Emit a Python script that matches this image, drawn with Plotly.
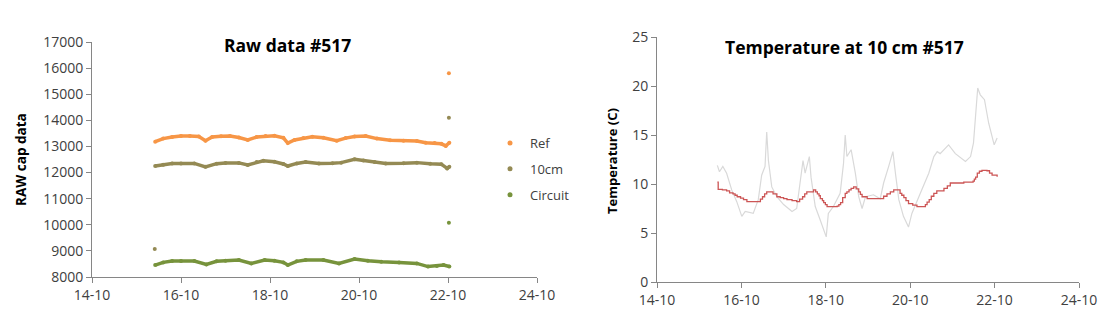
import plotly.graph_objects as go

# ---------------- data ----------------
tick_days = [14, 16, 18, 20, 22, 24]
tick_labels = ["14-10", "16-10", "18-10", "20-10", "22-10", "24-10"]

ref_t = [15.42, 15.6, 15.8, 16.0, 16.2, 16.4, 16.55, 16.7, 16.9, 17.1, 17.3, 17.5, 17.7, 17.9, 18.1, 18.3, 18.4,
         18.55, 18.75, 18.95, 19.2, 19.5, 19.7, 19.9, 20.15, 20.4, 20.7, 21.0, 21.3, 21.5, 21.7, 21.85, 21.95, 22.03]
ref_v = [13180, 13300, 13360, 13400, 13400, 13380, 13220, 13360, 13390, 13400, 13340, 13250, 13360, 13400, 13410,
         13330, 13130, 13250, 13320, 13370, 13330, 13220, 13320, 13380, 13400, 13300, 13240, 13220, 13210, 13140,
         13130, 13100, 13020, 13140]

cm10_t = [15.42, 15.6, 15.8, 16.0, 16.3, 16.55, 16.8, 17.0, 17.3, 17.5, 17.7, 17.85, 18.1, 18.3, 18.4, 18.6, 18.8,
          19.1, 19.4, 19.6, 19.9, 20.1, 20.35, 20.6, 21.0, 21.3, 21.6, 21.85, 21.98, 22.03]
cm10_v = [12250, 12300, 12350, 12350, 12350, 12220, 12340, 12370, 12370, 12290, 12400, 12450, 12410, 12330, 12250,
          12350, 12400, 12350, 12360, 12380, 12510, 12460, 12400, 12350, 12360, 12380, 12340, 12320, 12160, 12220]

circ_t = [15.42, 15.6, 15.8, 16.0, 16.3, 16.57, 16.8, 17.0, 17.3, 17.58, 17.88, 18.1, 18.3, 18.4, 18.6, 18.8, 19.2,
          19.55, 19.9, 20.2, 20.5, 20.9, 21.3, 21.55, 21.75, 21.9, 22.03]
circ_v = [8456, 8560, 8610, 8610, 8610, 8480, 8600, 8620, 8650, 8520, 8650, 8620, 8560, 8456, 8600, 8650, 8650,
          8520, 8690, 8620, 8580, 8560, 8520, 8400, 8420, 8456, 8400]

# isolated outlier readings
ref_out_t = [22.02]
ref_out_v = [15800]
cm10_out_t = [15.41, 22.02]
cm10_out_v = [9070, 14100]
circ_out_t = [22.02]
circ_out_v = [10080]

air_t = [15.43, 15.48, 15.56, 15.65, 15.77, 15.89, 16.01, 16.09, 16.28, 16.4, 16.48, 16.56, 16.6, 16.64, 16.72,
         16.84, 17.0, 17.2, 17.31, 17.39, 17.46, 17.51, 17.61, 17.65, 17.75, 17.87, 18.01, 18.06, 18.18, 18.34,
         18.42, 18.46, 18.5, 18.6, 18.7, 18.78, 18.86, 18.94, 19.13, 19.29, 19.37, 19.49, 19.59, 19.65, 19.73,
         19.84, 19.96, 20.04, 20.12, 20.24, 20.44, 20.56, 20.64, 20.71, 20.91, 21.07, 21.31, 21.43, 21.5, 21.54,
         21.6, 21.66, 21.76, 21.86, 21.99, 22.06]
air_v = [11.9, 11.25, 11.8, 11.1, 9.4, 8.2, 6.7, 7.2, 7.0, 8.4, 10.9, 11.8, 15.3, 12.4, 9.7,
         8.7, 7.9, 7.2, 7.5, 10.1, 12.4, 11.1, 12.8, 10.7, 7.7, 6.3, 4.6, 7.0, 7.7, 9.05,
         12.1, 15.0, 12.8, 13.5, 11.1, 8.7, 7.5, 8.7, 8.9, 8.5, 10.1, 11.8, 13.3, 11.1, 8.4,
         6.7, 5.6, 7.0, 7.9, 9.05, 11.1, 12.8, 13.3, 13.1, 14.0, 13.1, 12.3, 12.8, 14.2, 16.9,
         19.8, 19.1, 18.6, 16.2, 14.0, 14.7]

soil_t = [15.43, 15.45, 15.55, 15.65, 15.72, 15.8, 15.85, 15.9, 15.98, 16.05, 16.13, 16.4, 16.45, 16.5, 16.55,
          16.6, 16.75, 16.84, 16.92, 17.0, 17.08, 17.2, 17.31, 17.38, 17.45, 17.5, 17.55, 17.71, 17.76, 17.8,
          17.84, 17.87, 17.92, 17.95, 17.99, 18.03, 18.27, 18.31, 18.35, 18.4, 18.46, 18.5, 18.55, 18.6, 18.66,
          18.72, 18.78, 18.82, 18.86, 18.98, 19.29, 19.37, 19.45, 19.53, 19.61, 19.76, 19.8, 19.85, 19.9, 19.96,
          20.06, 20.16, 20.36, 20.4, 20.45, 20.5, 20.56, 20.63, 20.7, 20.8, 20.88, 20.95, 21.27, 21.49, 21.52,
          21.55, 21.59, 21.64, 21.7, 21.82, 21.88, 21.94, 22.06]
soil_v = [10.2, 9.45, 9.4, 9.3, 9.1, 9.0, 8.85, 8.7, 8.55, 8.4, 8.2, 8.2, 8.45, 8.7, 9.0,
          9.2, 9.0, 8.7, 8.6, 8.5, 8.4, 8.3, 8.2, 8.45, 8.7, 9.0, 9.2, 9.4, 9.2, 9.0,
          8.8, 8.5, 8.3, 8.1, 7.9, 7.7, 7.75, 7.9, 8.1, 8.6, 9.05, 9.2, 9.4, 9.55, 9.7,
          9.5, 9.2, 8.95, 8.7, 8.5, 8.5, 8.75, 9.0, 9.2, 9.4, 9.05, 8.85, 8.6, 8.3, 8.0,
          7.85, 7.7, 7.9, 8.15, 8.4, 8.75, 9.05, 9.3, 9.3, 9.55, 9.8, 10.1, 10.2, 10.3, 10.5,
          10.7, 11.1, 11.3, 11.4, 11.35, 11.1, 10.9, 10.75]

# ---------------- figure ----------------
FONT = "Open Sans"
C_REF = "#F79646"
C_10 = "#948A54"
C_CIRC = "#77933C"
AXC = "#868686"
TXT = "#404040"

fig = go.Figure()

for t, v, c, name, g in [(ref_t, ref_v, C_REF, "Ref", "a"), (cm10_t, cm10_v, C_10, "10cm", "b"),
                         (circ_t, circ_v, C_CIRC, "Circuit", "c")]:
    fig.add_trace(go.Scatter(x=t, y=v, mode="lines+markers", line=dict(color=c, width=3.5),
                             marker=dict(color=c, size=4), showlegend=False, xaxis="x", yaxis="y"))
    fig.add_trace(go.Scatter(x=[None], y=[None], mode="markers", marker=dict(color=c, size=5),
                             name=name, legendgroup=g, showlegend=True, xaxis="x", yaxis="y"))

for t, v, c in [(ref_out_t, ref_out_v, C_REF), (cm10_out_t, cm10_out_v, C_10), (circ_out_t, circ_out_v, C_CIRC)]:
    fig.add_trace(go.Scatter(x=t, y=v, mode="markers", marker=dict(color=c, size=4), showlegend=False,
                             xaxis="x", yaxis="y"))

fig.add_trace(go.Scatter(x=air_t, y=air_v, mode="lines", line=dict(color="#D9D9D9", width=1.2),
                         showlegend=False, xaxis="x2", yaxis="y2"))
fig.add_trace(go.Scatter(x=soil_t, y=soil_v, mode="lines", line=dict(color="#CC5555", width=1.3, shape="hv"),
                         showlegend=False, xaxis="x2", yaxis="y2"))

W, H = 1120, 335

def px_x(p):
    return p / W

def px_y(p):
    return 1 - p / H

common_x = dict(range=[14, 24], tickvals=tick_days, ticktext=tick_labels, showgrid=False, zeroline=False,
                showline=True, linecolor=AXC, linewidth=1, ticks="outside", ticklen=5, tickcolor=AXC,
                automargin=False, tickfont=dict(family=FONT, size=14, color=TXT))
common_y = dict(showgrid=False, zeroline=False, showline=True, linecolor=AXC, linewidth=1, ticks="outside",
                ticklen=5, tickcolor=AXC, automargin=False, tickformat="d",
                tickfont=dict(family=FONT, size=14, color=TXT))

def ann(text, x, y, size, angle=0):
    return dict(text=text, x=px_x(x), y=px_y(y), xref="paper", yref="paper", xanchor="center",
                yanchor="middle", textangle=angle, showarrow=False,
                font=dict(family=FONT, size=size, color="black"))

fig.update_layout(
    width=W, height=H, margin=dict(l=0, r=0, t=0, b=0, autoexpand=False),
    paper_bgcolor="white", plot_bgcolor="white",
    xaxis=dict(domain=[px_x(92), px_x(537)], anchor="y", **common_x),
    yaxis=dict(domain=[px_y(277), px_y(42)], anchor="x", range=[8000, 17000], dtick=1000, **common_y),
    xaxis2=dict(domain=[px_x(657), px_x(1079)], anchor="y2", **common_x),
    yaxis2=dict(domain=[px_y(282), px_y(37)], anchor="x2", range=[0, 25], dtick=5, **common_y),
    showlegend=True,
    legend=dict(x=px_x(490), y=px_y(128), xanchor="left", yanchor="top", bgcolor="rgba(0,0,0,0)",
                font=dict(family=FONT, size=13, color=TXT), tracegroupgap=6, itemwidth=30),
    annotations=[
        ann("<b>Raw data #517</b>", 287, 45, 17.5),
        ann("<b>Temperature at 10 cm #517</b>", 844, 47, 17.5),
        ann("<b>RAW cap data</b>", 21, 160, 13.5, -90),
        ann("<b>Temperature (C)</b>", 612, 161, 13, -90),
    ],
)

fig.write_html("out.html")
